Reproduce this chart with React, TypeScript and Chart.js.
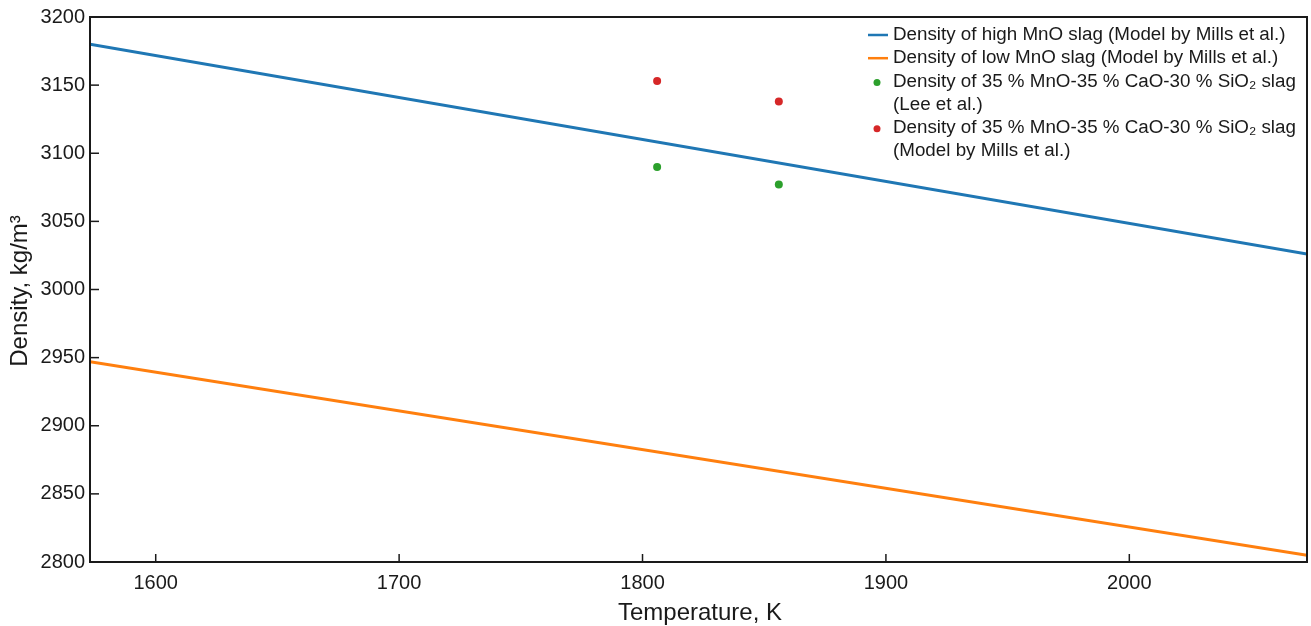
import React, { useEffect, useRef } from "react";
import { Chart, registerables } from "chart.js";

Chart.register(...registerables);

// ---- data ----
const lineTemps = [1573, 2073];
const highMnO = [3180, 3026];
const lowMnO = [2947, 2805];
const expTemps = [1806, 1856];
const leeDensity = [3090, 3077];
const millsDensity = [3153, 3138];
const xTicks = [1600, 1700, 1800, 1900, 2000];
const yTicks = [2800, 2850, 2900, 2950, 3000, 3050, 3100, 3150, 3200];
const legendLabels = [
  ["Density of high MnO slag (Model by Mills et al.)"],
  ["Density of low MnO slag (Model by Mills et al.)"],
  ["Density of 35 % MnO-35 % CaO-30 % SiO\u2082 slag", "(Lee et al.)"],
  ["Density of 35 % MnO-35 % CaO-30 % SiO\u2082 slag", "(Model by Mills et al.)"],
];
const xTitle = "Temperature, K";
const yTitle = "Density, kg/m\u00b3";

const BLUE = "#1f77b4";
const ORANGE = "#ff7f0e";
const GREEN = "#2ca02c";
const RED = "#d62728";
const FONT = "'Liberation Sans', Arial, sans-serif";
const INK = "#1a1a1a";

const framePlugin = {
  id: "frameTicks",
  afterDraw(chart: any) {
    const { ctx, chartArea } = chart;
    const { left, right, top, bottom } = chartArea;
    const xs = chart.scales.x;
    const ys = chart.scales.y;
    ctx.save();
    ctx.strokeStyle = INK;
    ctx.lineWidth = 1.5;
    xTicks.forEach((v) => {
      const px = xs.getPixelForValue(v);
      ctx.beginPath();
      ctx.moveTo(px, bottom);
      ctx.lineTo(px, bottom - 8);
      ctx.stroke();
    });
    yTicks.forEach((v) => {
      const py = ys.getPixelForValue(v);
      ctx.beginPath();
      ctx.moveTo(left, py);
      ctx.lineTo(left + 9, py);
      ctx.stroke();
    });
    ctx.lineWidth = 2;
    ctx.strokeRect(left, top, right - left, bottom - top);

    // axis titles
    ctx.fillStyle = INK;
    ctx.font = `24px ${FONT}`;
    ctx.textAlign = "center";
    ctx.textBaseline = "alphabetic";
    ctx.fillText(xTitle, 700, 620);
    ctx.save();
    ctx.translate(27, 291);
    ctx.rotate(-Math.PI / 2);
    ctx.fillText(yTitle, 0, 0);
    ctx.restore();

    // legend
    const colors = [BLUE, ORANGE, GREEN, RED];
    const kinds = ["line", "line", "dot", "dot"];
    ctx.font = `18.8px ${FONT}`;
    ctx.textAlign = "left";
    ctx.textBaseline = "middle";
    let y = 35;
    const lh = 23.2;
    legendLabels.forEach((lines, i) => {
      if (kinds[i] === "line") {
        ctx.strokeStyle = colors[i];
        ctx.lineWidth = 2.5;
        ctx.beginPath();
        ctx.moveTo(868, y);
        ctx.lineTo(888, y);
        ctx.stroke();
      } else {
        ctx.fillStyle = colors[i];
        ctx.beginPath();
        ctx.arc(877, y + 1, 3.5, 0, Math.PI * 2);
        ctx.fill();
      }
      ctx.fillStyle = INK;
      lines.forEach((t) => {
        ctx.fillText(t, 893, y);
        y += lh;
      });
    });
    ctx.restore();
  },
};

export default function App() {
  const ref = useRef<HTMLCanvasElement | null>(null);
  useEffect(() => {
    if (!ref.current) return;
    const chart = new Chart(ref.current, {
      type: "scatter",
      data: {
        datasets: [
          {
            label: legendLabels[0][0],
            data: lineTemps.map((t, i) => ({ x: t, y: highMnO[i] })),
            showLine: true,
            borderColor: BLUE,
            borderWidth: 3,
            pointRadius: 0,
          },
          {
            label: legendLabels[1][0],
            data: lineTemps.map((t, i) => ({ x: t, y: lowMnO[i] })),
            showLine: true,
            borderColor: ORANGE,
            borderWidth: 3,
            pointRadius: 0,
          },
          {
            label: legendLabels[2][0],
            data: expTemps.map((t, i) => ({ x: t, y: leeDensity[i] })),
            backgroundColor: GREEN,
            borderWidth: 0,
            pointRadius: 4,
          },
          {
            label: legendLabels[3][0],
            data: expTemps.map((t, i) => ({ x: t, y: millsDensity[i] })),
            backgroundColor: RED,
            borderWidth: 0,
            pointRadius: 4,
          },
        ],
      },
      options: {
        responsive: false,
        animation: false,
        layout: { padding: { top: 16, right: 4, left: 0, bottom: 0 } },
        plugins: { legend: { display: false }, tooltip: { enabled: false } },
        scales: {
          x: {
            type: "linear",
            min: 1573,
            max: 2073,
            afterBuildTicks: (s: any) => {
              s.ticks = xTicks.map((v) => ({ value: v }));
            },
            afterFit: (s: any) => {
              s.height = 64;
            },
            grid: { display: false, drawTicks: false, tickLength: 0 },
            border: { display: false },
            ticks: {
              color: INK,
              font: { family: FONT, size: 20 },
              padding: 9,
              maxRotation: 0,
              callback: (v: any) => String(v),
            },
          },
          y: {
            type: "linear",
            min: 2800,
            max: 3200,
            afterBuildTicks: (s: any) => {
              s.ticks = yTicks.map((v) => ({ value: v }));
            },
            afterFit: (s: any) => {
              s.width = 90;
            },
            grid: { display: false, drawTicks: false, tickLength: 0 },
            border: { display: false },
            ticks: {
              color: INK,
              font: { family: FONT, size: 20 },
              padding: 5,
              callback: (v: any) => String(v),
            },
          },
        },
      },
      plugins: [framePlugin],
    });
    return () => chart.destroy();
  }, []);
  return (
    <div style={{ position: "absolute", left: 0, top: 0, width: 1311, height: 626, background: "#fff" }}>
      <canvas ref={ref} width={1311} height={626} style={{ display: "block" }} />
    </div>
  );
}
